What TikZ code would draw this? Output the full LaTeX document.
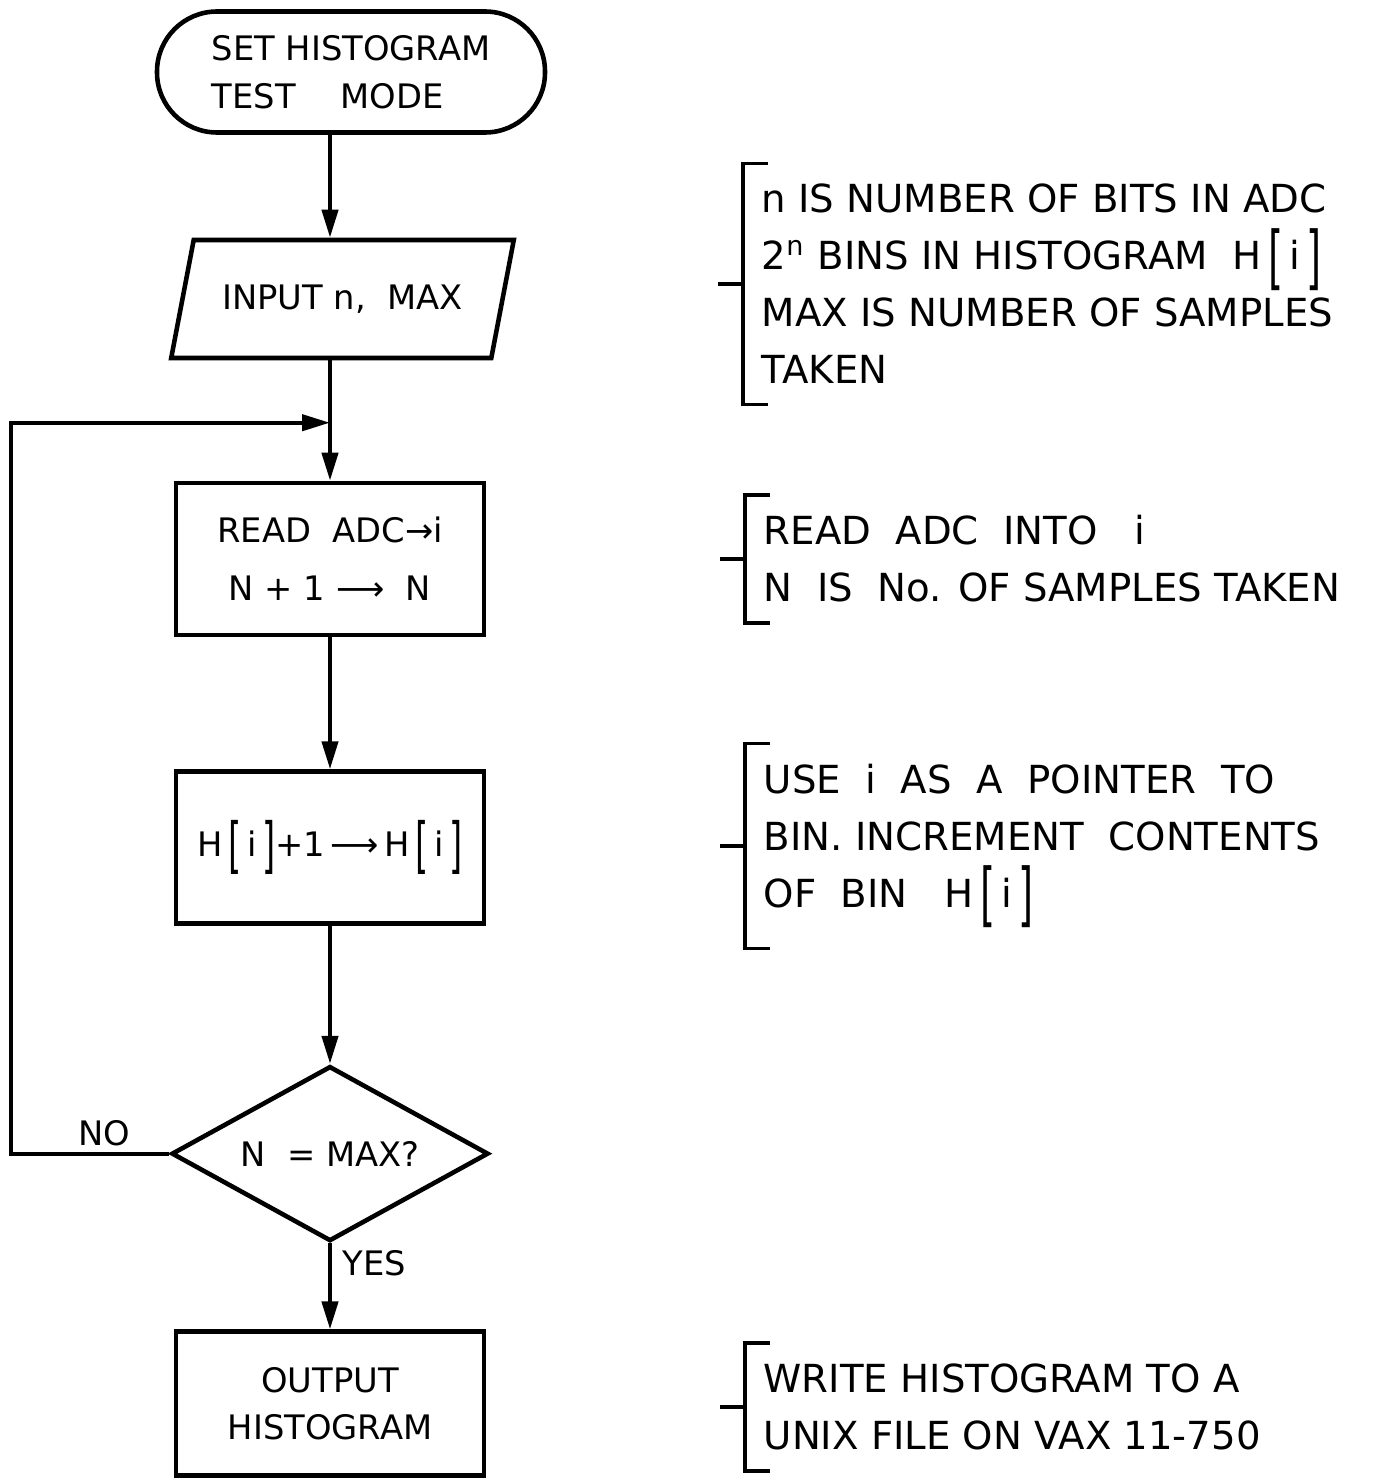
\documentclass[tikz,border=0pt]{standalone}
\usepackage{fontspec}
\setmainfont{DejaVu Sans}
\usetikzlibrary{positioning,shapes.geometric,arrows.meta}
\newcommand{\flowfont}{\fontsize{9.6}{13.6}\selectfont}
\newcommand{\notefont}{\fontsize{11}{16.2}\selectfont}
\newcommand{\Hbin}{H\,\raisebox{-0.3em}{\scalebox{1}[1.8]{[}}\,i\,\raisebox{-0.3em}{\scalebox{1}[1.8]{]}}}

\begin{document}
\begin{tikzpicture}[box/.style={rectangle,draw,line width=1.3pt,minimum width=3.08cm,minimum height=1.52cm,align=center,font=\flowfont},
		term/.style={box,rounded corners=0.6cm,minimum width=3.88cm,minimum height=1.21cm},
		inbox/.style={box,trapezium,trapezium left angle=69,trapezium right angle=111,trapezium stretches=true,minimum width=3.45cm,minimum height=1.18cm},
		test/.style={box,diamond,aspect=1.8,inner sep=0pt,minimum width=3.17cm,minimum height=1.75cm},
		note/.style={anchor=west,align=left,inner xsep=0.18cm,inner ysep=0.2cm,font=\notefont},
		lbl/.style={font=\flowfont,inner sep=0pt},
		flow/.style={line width=1.2pt,-{Triangle[length=0.28cm,width=0.16cm]}},
		brack/.style={line width=1pt}]
		\useasboundingbox (0,0) rectangle (13.76,-14.81);
		% flow chart
		\node[term,align=left] (set) at (3.51,-0.72) {SET HISTOGRAM\\TEST\hspace{0.45cm}MODE};
		\node[inbox] (in) at (3.425,-2.99) {INPUT n,\ \ MAX};
		\node[box] (read) at (3.30,-5.59) {READ\ \ ADC→i\\[0.1cm] N + 1 ⟶\ \ N};
		\node[box] (inc) [below=1.32cm of read] {\Hbin+1\,⟶\,\Hbin};
		\node[test] (test) [below=1.38cm of inc] {N\ \ = MAX?};
		\node[box] (out) [below=0.86cm of test,minimum height=1.44cm] {OUTPUT\\HISTOGRAM};
		\coordinate[above=0.58cm of read.north] (join);
		\node[lbl,anchor=south] (no) at ([xshift=-0.65cm,yshift=0.07cm]test.west) {NO};
		\node[lbl,anchor=north west] (yes) at ([xshift=0.12cm,yshift=-0.06cm]test.south) {YES};
		\draw[flow] (set.south -| read.north) -- (in.north -| read.north);
		\draw[flow] (in.south -| read.north) -- (read.north);
		\draw[flow] (read) -- (inc);
		\draw[flow] (inc) -- (test);
		\draw[flow] (test) -- (out);
		\draw[flow] (test.west) -- ++(-1.58,0) |- (join);
		% notes
		\node[note] (n1) at (7.43,-2.84) {n IS NUMBER OF BITS IN ADC\\2\textsuperscript{n} BINS IN HISTOGRAM\ \ \Hbin\\MAX IS NUMBER OF SAMPLES\\TAKEN};
		\node[note] (n2) at (7.45,-5.59) {READ\ \ ADC\ \ INTO\ \ \ i\\N\ \ IS\ \ No. OF SAMPLES TAKEN};
		\node[note] (n3) at (7.45,-8.46) {USE\ \ i\ \ AS\ \ A\ \ POINTER\ \ TO\\BIN. INCREMENT\ \ CONTENTS\\OF\ \ BIN\ \ \ \Hbin};
		\node[note] (n4) at (7.45,-14.07) {WRITE HISTOGRAM TO A\\UNIX FILE ON VAX 11-750};
		\foreach \n in {n1,n2,n3,n4}
			\draw[brack] ([xshift=0.25cm]\n.north west) -- (\n.north west) -- (\n.south west) -- ++(0.25,0) (\n.west) -- ++(-0.25,0);
	\end{tikzpicture}
\end{document}
